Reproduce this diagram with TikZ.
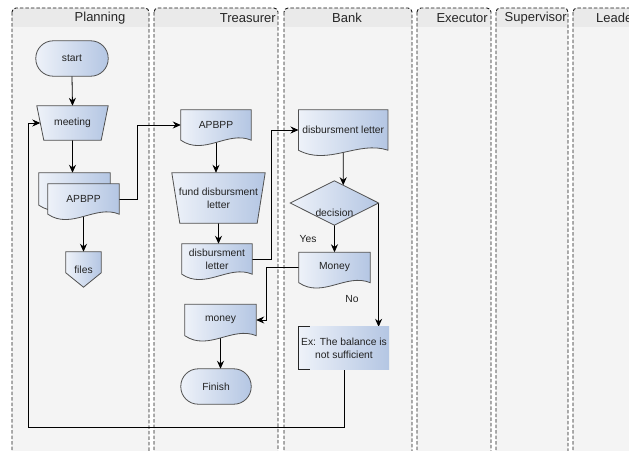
\documentclass[tikz,border=0pt]{standalone}
\usepackage{fontspec}
\setmainfont{Liberation Sans}
\usetikzlibrary{arrows.meta,calc}
\pgfdeclarelayer{lanes}
\pgfdeclarelayer{conn}
\pgfdeclarelayer{shapes}
\pgfsetlayers{lanes,conn,shapes,main}

\definecolor{fillL}{HTML}{EEF2F9}
\definecolor{fillR}{HTML}{B4C6E3}
\definecolor{edgeC}{HTML}{505050}
\definecolor{laneBody}{HTML}{F4F4F4}
\definecolor{laneHead}{HTML}{EAEAEA}
\definecolor{txtC}{HTML}{222222}

\tikzset{
  shadefill/.style={left color=fillL, right color=fillR, draw=edgeC, line width=0.8pt},
  box/.style={inner sep=0pt, align=center, text=txtC, font=\fontsize{10.3}{13}\selectfont},
  arr/.style={draw=black, line width=0.8pt, -{Stealth[length=8pt,width=7pt]}},
  lane/.style={draw=black!90, dash pattern=on 3.5pt off 2pt, line width=0.9pt, rounded corners=4pt},
  lanetitle/.style={inner sep=0pt, text=black!85, font=\fontsize{13}{15}\selectfont},
}

% document shape behind node #1
\newcommand\mkdoc[1]{%
  \begin{pgfonlayer}{shapes}
  \path[shadefill] (#1.north west) -- (#1.north east) -- (#1.south east)
    .. controls ($(#1.south west)!0.67!(#1.south east)+(0,-10)$) and ($(#1.south west)!0.33!(#1.south east)+(0,16)$) .. (#1.south west) -- cycle;
  \end{pgfonlayer}}
% manual operation shape
\newcommand\mkman[2]{%
  \begin{pgfonlayer}{shapes}
  \path[shadefill] (#1.north west) -- (#1.north east) -- ($(#1.south east)+(-#2,0)$) -- ($(#1.south west)+(#2,0)$) -- cycle;
  \end{pgfonlayer}}
% terminal shape
\newcommand\mkterm[1]{%
  \begin{pgfonlayer}{shapes}
  \path[shadefill, rounded corners=17.4pt] (#1.south west) rectangle (#1.north east);
  \end{pgfonlayer}}
% swimlane
\newcommand\mklane[2]{%
  \begin{pgfonlayer}{lanes}
  \begin{scope}
    \clip[rounded corners=4pt] (#1,8) rectangle (#2,470);
    \fill[laneBody] (#1,8) rectangle (#2,470);
    \fill[laneHead] (#1,8) rectangle (#2,27);
  \end{scope}
  \draw[lane] (#1,8) rectangle (#2,470);
  \end{pgfonlayer}}

\begin{document}
\begin{tikzpicture}[x=1pt,y=-1pt]
\useasboundingbox (0,0) rectangle (629,450);
\begin{pgfonlayer}{lanes}
\fill[white] (0,0) rectangle (629,450);
\end{pgfonlayer}

% lanes
\mklane{12}{149}
\mklane{154}{278}
\mklane{284}{412}
\mklane{417}{491}
\mklane{496}{568}
\mklane{573}{700}
\node[lanetitle] (tplan) at (100,18) {Planning};
\node[lanetitle, anchor=east] (ttreas) at (276,18) {Treasurer};
\node[lanetitle] (tbank) at (347,18) {Bank};
\node[lanetitle, anchor=east] (texec) at (488,18) {Executor};
\node[lanetitle, anchor=east] (tsup) at (567,18) {Supervisor};
\node[lanetitle, anchor=west] (tlead) at (596,18) {Leader};

% Planning
\node[box, minimum width=72pt, minimum height=35pt] (start) at (72,58.5) {start};
\mkterm{start}
\node[box, minimum width=71pt, minimum height=34pt] (meet) at (72.5,123) {meeting};
\mkman{meet}{7}
\node[box, minimum width=71pt, minimum height=32pt] (mdocb) at (74.5,189) {};
\mkdoc{mdocb}
\node[box, minimum width=71pt, minimum height=30pt] (mdoc) at (83.5,199) {APBPP};
\mkdoc{mdoc}
\node[box, minimum width=35pt, minimum height=35pt] (files) at (83.5,269.5) {files};
\begin{pgfonlayer}{shapes}
\path[shadefill] (files.north west) -- (files.north east) -- ($(files.north east)+(0,21)$) -- (files.south) -- ($(files.north west)+(0,21)$) -- cycle;
\end{pgfonlayer}

% Treasurer
\node[box, minimum width=70pt, minimum height=30pt] (tapb) at (216,125) {APBPP};
\mkdoc{tapb}
\node[box, minimum width=93pt, minimum height=50pt] (fund) at (218.5,198) {fund disbursment\\letter};
\mkman{fund}{8}
\node[box, minimum width=70pt, minimum height=30pt] (tdl) at (217,259) {disbursment\\letter};
\mkdoc{tdl}
\node[box, minimum width=71pt, minimum height=31pt] (tmoney) at (220.5,320) {money};
\mkdoc{tmoney}
\node[box, minimum width=70pt, minimum height=35pt] (finish) at (216,386.5) {Finish};
\mkterm{finish}

% Bank
\node[box, minimum width=89pt, minimum height=40pt] (bdoc) at (343.2,130) {disbursment letter};
\mkdoc{bdoc}
\node[box, minimum width=88pt, minimum height=44pt] (dec) at (334.4,203) {};
\begin{pgfonlayer}{shapes}
\path[shadefill] (dec.north) -- (dec.east) -- (dec.south) -- (dec.west) -- cycle;
\end{pgfonlayer}
\node[box] (declab) at (334.4,213) {decision};
\node[box, minimum width=71pt, minimum height=30pt] (bmoney) at (334.5,267.5) {Money};
\mkdoc{bmoney}
\node[box, minimum width=90pt, minimum height=42pt] (ex) at (344,348) {Ex: The balance is\\not sufficient};
\begin{pgfonlayer}{shapes}
\path[left color=fillL, right color=fillR] (ex.south west) rectangle (ex.north east);
\draw[black!85, line width=0.8pt] ($(ex.north west)+(11,0)$) -- (ex.north west) -- (ex.south west) -- ++(11,0);
\end{pgfonlayer}
\node[box] (yes) at (308,239) {Yes};
\node[box] (no) at (352,299) {No};

% connectors
\coordinate (meetin) at ($(meet.west)+(3.5,0)$);
\coordinate (loopc) at (28,427);
\begin{pgfonlayer}{conn}
\draw[arr] (start.south) -- (meet.north);
\draw[arr] (meet.south) -- (meet.south |- mdocb.north);
\draw[arr] (mdoc.south) -- (files.north);
\draw[arr] (mdoc.east) -- ++(18,0) |- (tapb.west);
\draw[arr] (tapb.south) -- (tapb.south |- fund.north);
\draw[arr] (fund.south) -- (fund.south |- tdl.north);
\draw[arr] (tdl.east) -- ++(19,0) |- (bdoc.west);
\draw[arr] (bdoc.south) -- ($(dec.north)!0.2!(dec.east)$);
\draw[arr] (dec.south) -- (bmoney.north);
\draw[arr] (dec.east) -- (dec.east |- ex.north);
\draw[arr] (bmoney.west) -- ++(-32,0) |- (tmoney.east);
\draw[arr] (tmoney.south) -- (tmoney.south |- finish.north);
\draw[arr] (ex.south) |- (loopc) |- (meetin);
\end{pgfonlayer}
\end{tikzpicture}
\end{document}
